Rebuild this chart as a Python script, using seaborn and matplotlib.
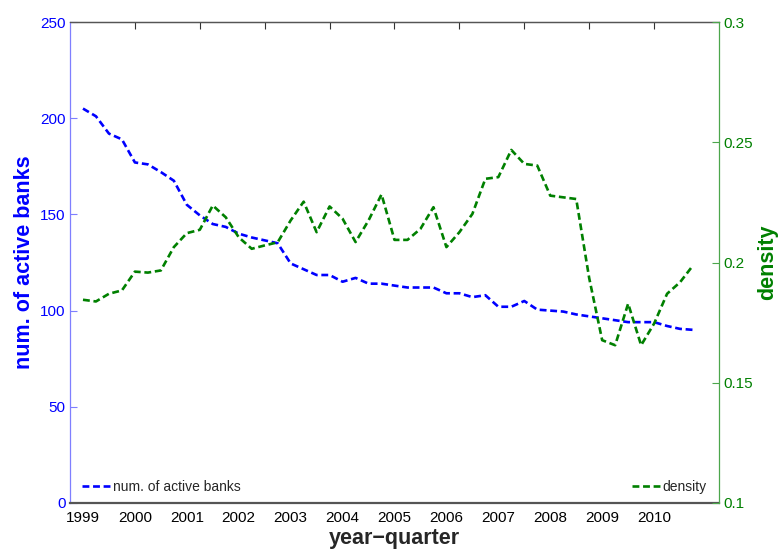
import numpy as np
import pandas as pd
import matplotlib
matplotlib.use("Agg")
import matplotlib.pyplot as plt
import seaborn as sns

# Quarterly series, 1999Q1 .. 2010Q4
years = ["1999", "2000", "2001", "2002", "2003", "2004",
         "2005", "2006", "2007", "2008", "2009", "2010"]
quarter_pos = list(range(1, 49))

active_banks = [205, 201, 192, 189, 177, 176, 172, 167.5, 155, 149.5,
                145, 143.5, 140, 138, 136.5, 135, 124.5, 121.5, 118.5, 118.5,
                115, 117, 114, 114, 113, 112, 112, 112, 109, 109,
                107, 108, 102, 102, 105, 100.5, 100, 99.5, 98, 97,
                96, 95, 94, 94, 94, 92, 90.5, 90]

density = [0.1845, 0.1838, 0.1870, 0.1884, 0.1962, 0.1958, 0.1967, 0.2064, 0.2122, 0.2136,
           0.2237, 0.2188, 0.2105, 0.2057, 0.2071, 0.2084, 0.2175, 0.2253, 0.2126, 0.2233,
           0.2182, 0.2085, 0.2175, 0.2283, 0.2094, 0.2094, 0.2140, 0.2230, 0.2064, 0.2126,
           0.2202, 0.2348, 0.2355, 0.2468, 0.2410, 0.2403, 0.2278, 0.2271, 0.2264, 0.1935,
           0.1677, 0.1656, 0.1829, 0.1656, 0.1746, 0.1870, 0.1918, 0.1988]

df = pd.DataFrame({"q": quarter_pos, "banks": active_banks, "density": density})

sns.set_style("white")
plt.rcParams["font.family"] = ["Liberation Sans", "DejaVu Sans"]

BLUE = "#0000ff"
GREEN = "#008000"
DASH = (2.6, 1.4)

fig = plt.figure(figsize=(7.79, 5.49), dpi=100)
ax = fig.add_axes([70 / 779, 1 - 503 / 549, 649 / 779, 481 / 549])
ax2 = ax.twinx()

sns.lineplot(data=df, x="q", y="banks", ax=ax, color=BLUE, lw=1.9,
             label="num. of active banks", legend=False)
sns.lineplot(data=df, x="q", y="density", ax=ax2, color=GREEN, lw=1.9,
             label="density", legend=False)
ax.lines[0].set_dashes(DASH)
ax2.lines[0].set_dashes(DASH)

ax.set_xlim(0, 50)
ax.set_ylim(0, 250)
ax2.set_ylim(0.1, 0.3)

# bottom axis: one tick per quarter, labels at the first quarter of each year
ax.set_xticks(range(1, 50))
labels = [""] * 49
for k, y in enumerate(years):
    labels[4 * k] = y
ax.set_xticklabels(labels)
ax.tick_params(axis="x", direction="in", length=5, width=0.8, color="#333333",
               labelsize=11, labelcolor="black", pad=6, top=False)

# top axis ticks
top = ax.secondary_xaxis("top")
top.set_xticks(range(5, 50, 5))
top.set_xticklabels([])
top.tick_params(direction="in", length=5, width=0.8, color="#333333")
top.spines["top"].set_color("#555555")
top.spines["top"].set_linewidth(0.9)

ax.set_yticks([0, 50, 100, 150, 200, 250])
ax.tick_params(axis="y", direction="in", length=5, width=0.8, color="#7f7fff",
               labelcolor=BLUE, labelsize=11, pad=3)
ax2.set_yticks([0.1, 0.15, 0.2, 0.25, 0.3])
ax2.set_yticklabels(["0.1", "0.15", "0.2", "0.25", "0.3"])
ax2.tick_params(axis="y", direction="in", length=5, width=0.8, color="#4ca64c",
                labelcolor=GREEN, labelsize=11, pad=3)

for a in (ax, ax2):
    for s in a.spines.values():
        s.set_linewidth(0.9)
ax.spines["left"].set_color("#7f7fff")
ax.spines["bottom"].set_color("#555555")
ax.spines["bottom"].set_linewidth(1.6)
ax.spines["top"].set_color("#555555")
ax.spines["right"].set_visible(False)
ax2.spines["right"].set_color("#4ca64c")
ax2.spines["left"].set_visible(False)
ax2.spines["top"].set_visible(False)
ax2.spines["bottom"].set_visible(False)

ax.set_xlabel("year\u2212quarter", fontsize=15.5, fontweight="bold", labelpad=2)
ax.set_ylabel("num. of active banks", fontsize=15.5, fontweight="bold",
              color=BLUE, labelpad=4)
ax2.set_ylabel("density", fontsize=15.5, fontweight="bold", color=GREEN,
               labelpad=3)

leg1 = ax.legend(handles=[ax.lines[0]], labels=["num. of active banks"],
                 loc="lower left", frameon=False, fontsize=10,
                 handlelength=2.0, handletextpad=0.2, borderaxespad=0.25,
                 bbox_to_anchor=(0.005, 0.0))
leg2 = ax2.legend(handles=[ax2.lines[0]], labels=["density"],
                  loc="lower right", frameon=False, fontsize=10,
                  handlelength=2.0, handletextpad=0.2, borderaxespad=0.25,
                  bbox_to_anchor=(0.995, 0.0))

fig.savefig("out.png", dpi=100)
